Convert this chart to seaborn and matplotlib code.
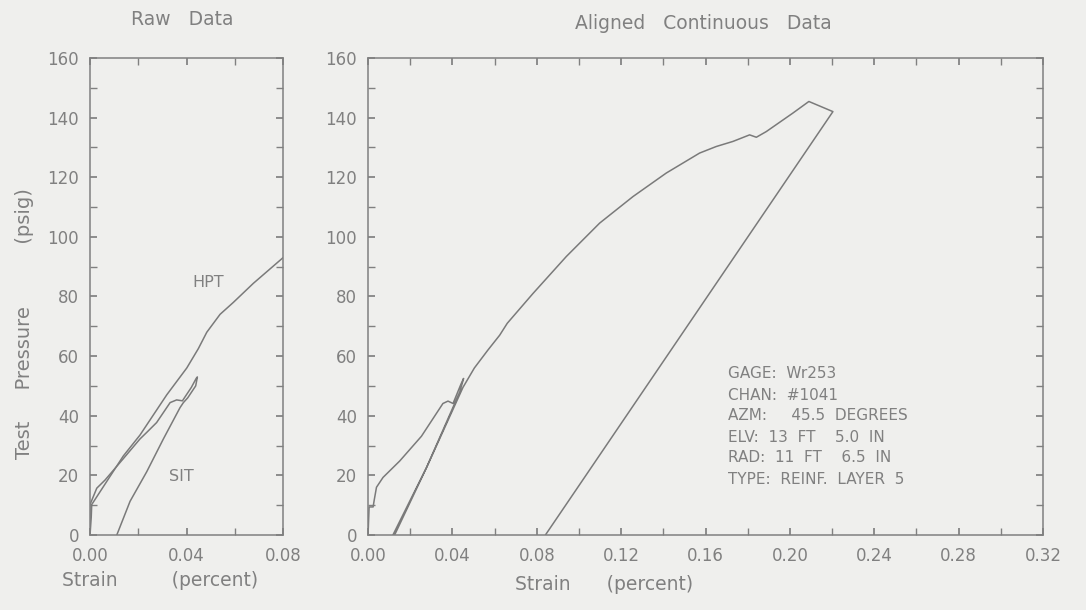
import pandas as pd
import seaborn as sns
import matplotlib.pyplot as plt
from matplotlib.ticker import MultipleLocator

# raw data panel: HPT and SIT curves (strain %, pressure psig)
raw_hpt_strain = [0.0, 0.0005, 0.0007, 0.0138, 0.0207, 0.0318, 0.0401, 0.0449,
                  0.0484, 0.0539, 0.0594, 0.0677, 0.0800]
raw_hpt_pressure = [0.0, 6.0, 10.2, 26.5, 33.5, 47.0, 56.0, 62.5,
                    68.0, 74.0, 78.0, 84.4, 93.0]

raw_sit_strain = [0.0, 0.0, 0.0028, 0.0062, 0.0138, 0.0207, 0.0235, 0.0276,
                  0.0332, 0.0359, 0.0383, 0.0420, 0.0440, 0.0445, 0.0438,
                  0.0405, 0.0387, 0.0373, 0.0304, 0.0235, 0.0166, 0.0111]
raw_sit_pressure = [0.0, 10.2, 15.7, 18.4, 25.6, 32.2, 34.4, 37.7,
                    44.4, 45.3, 45.0, 49.5, 52.5, 53.0, 50.0,
                    46.0, 44.4, 42.7, 32.2, 21.2, 11.3, 0.0]

# aligned continuous data panel
aligned_strain = [0.0, 0.0005, 0.0024, 0.0030, 0.0040, 0.0071, 0.0150, 0.0253,
                  0.0355, 0.0379, 0.0403, 0.0440, 0.0453, 0.0435, 0.0277,
                  0.0118, 0.0126, 0.0280, 0.0450, 0.0504, 0.0568, 0.0624,
                  0.0660, 0.0782, 0.0940, 0.1098, 0.1256, 0.1414, 0.1572,
                  0.1651, 0.1730, 0.1809, 0.1841, 0.1888, 0.2014, 0.2090,
                  0.2204, 0.0841]
aligned_pressure = [0.0, 9.4, 9.4, 12.0, 16.0, 19.3, 24.8, 33.1,
                    44.1, 44.9, 44.1, 50.5, 52.5, 48.0, 22.6,
                    0.0, 0.0, 23.0, 49.5, 56.0, 62.0, 67.0,
                    71.0, 81.0, 93.4, 104.6, 113.5, 121.4, 128.1,
                    130.3, 132.0, 134.2, 133.4, 135.3, 141.5, 145.4,
                    142.0, 0.0]

gage_info = ["GAGE:  Wr253",
             "CHAN:  #1041",
             "AZM:     45.5  DEGREES",
             "ELV:  13  FT    5.0  IN",
             "RAD:  11  FT    6.5  IN",
             "TYPE:  REINF.  LAYER  5"]

sns.set_theme(style="ticks")
plt.rcParams['font.family'] = ['DejaVu Sans']
bg = "#efefed"
ink = "#808080"
line_col = "#7a7a7a"

fig = plt.figure(figsize=(10.86, 6.10), dpi=100, facecolor=bg)
ax1 = fig.add_axes([0.0829, 0.123, 0.1777, 0.782])
ax2 = fig.add_axes([0.3389, 0.123, 0.6215, 0.782])

raw_hpt = pd.DataFrame({"strain": raw_hpt_strain, "pressure": raw_hpt_pressure})
raw_sit = pd.DataFrame({"strain": raw_sit_strain, "pressure": raw_sit_pressure})
aligned = pd.DataFrame({"strain": aligned_strain, "pressure": aligned_pressure})

for df in (raw_hpt, raw_sit):
    sns.lineplot(data=df, x="strain", y="pressure", ax=ax1, sort=False,
                 estimator=None, color=line_col, lw=1.1)
sns.lineplot(data=aligned, x="strain", y="pressure", ax=ax2, sort=False,
             estimator=None, color=line_col, lw=1.1)

for ax, xmax in ((ax1, 0.08), (ax2, 0.32)):
    ax.set_facecolor(bg)
    ax.set_xlim(0, xmax)
    ax.set_ylim(0, 160)
    ax.xaxis.set_major_locator(MultipleLocator(0.04))
    ax.xaxis.set_minor_locator(MultipleLocator(0.02))
    ax.yaxis.set_major_locator(MultipleLocator(20))
    ax.yaxis.set_minor_locator(MultipleLocator(10))
    ax.xaxis.set_major_formatter(plt.FuncFormatter(lambda v, p: f"{v:.2f}"))
    ax.tick_params(which="both", direction="in", top=True, right=True,
                   color=ink, labelcolor=ink, labelsize=12, length=5)
    ax.tick_params(axis="x", pad=9)
    ax.tick_params(axis="y", pad=8)
    for s in ax.spines.values():
        s.set_color(ink)
        s.set_linewidth(1.1)
    ax.set_xlabel("")
    ax.set_ylabel("")

ax1.text(0.049, 84.6, "HPT", color=ink, fontsize=11.5, ha="center", va="center")
ax1.text(0.038, 19.5, "SIT", color=ink, fontsize=11.5, ha="center", va="center")

fig.text(0.168, 0.968, "Raw   Data", color=ink, fontsize=13.5, ha="center", va="center")
fig.text(0.648, 0.962, "Aligned   Continuous   Data", color=ink, fontsize=13.5,
         ha="center", va="center")
fig.text(0.023, 0.47, "Test     Pressure          (psig)", color=ink, fontsize=14,
         rotation=90, ha="center", va="center")
fig.text(0.147, 0.048, "Strain         (percent)", color=ink, fontsize=13.5,
         ha="center", va="center")
fig.text(0.556, 0.042, "Strain      (percent)", color=ink, fontsize=13.5,
         ha="center", va="center")

for i, line in enumerate(gage_info):
    fig.text(0.670, 1 - (374 + i * 21) / 610, line, color=ink,
             fontsize=11, ha="left", va="center")

fig.savefig("out.png", dpi=100, facecolor=bg)
